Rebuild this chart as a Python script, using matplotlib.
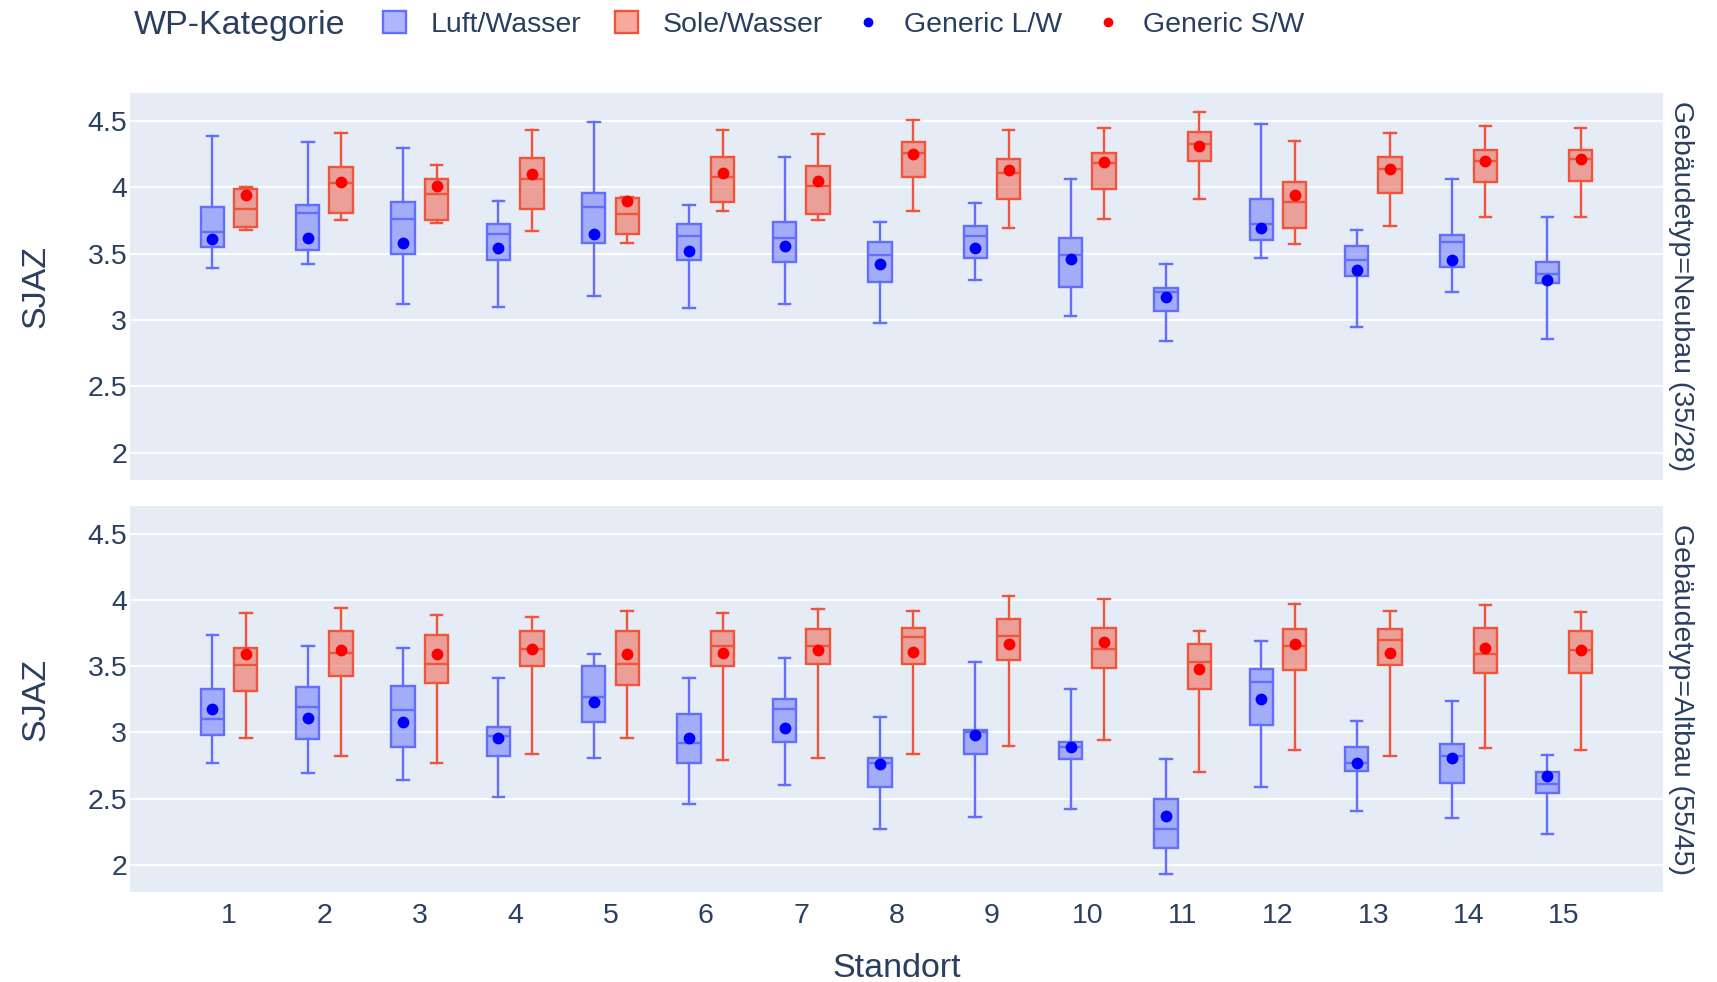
import matplotlib
matplotlib.use('Agg')
import matplotlib.pyplot as plt
from matplotlib.patches import Patch
from matplotlib.lines import Line2D
from matplotlib.colors import to_rgba

# Standorte (x categories) and y ticks
standorte = list(range(1, 16))
y_ticks = [2, 2.5, 3, 3.5, 4, 4.5]
y_tick_labels = ['2', '2.5', '3', '3.5', '4', '4.5']

# box stats per Standort: (whisker low, q1, median, q3, whisker high)
neubau_lw = [
    (3.39, 3.55, 3.66, 3.85, 4.39), (3.42, 3.53, 3.81, 3.87, 4.34), (3.12, 3.50, 3.76, 3.89, 4.30),
    (3.10, 3.45, 3.65, 3.72, 3.90), (3.18, 3.58, 3.85, 3.96, 4.49), (3.09, 3.45, 3.63, 3.72, 3.87),
    (3.12, 3.44, 3.62, 3.74, 4.23), (2.98, 3.29, 3.49, 3.59, 3.74), (3.30, 3.47, 3.63, 3.71, 3.88),
    (3.03, 3.25, 3.49, 3.62, 4.06), (2.84, 3.07, 3.21, 3.24, 3.42), (3.47, 3.60, 3.72, 3.91, 4.48),
    (2.95, 3.33, 3.45, 3.56, 3.68), (3.21, 3.40, 3.59, 3.64, 4.06), (2.86, 3.28, 3.35, 3.44, 3.78),
]
neubau_sw = [
    (3.68, 3.70, 3.84, 3.99, 4.00), (3.75, 3.81, 4.03, 4.15, 4.41), (3.73, 3.75, 3.95, 4.06, 4.17),
    (3.67, 3.84, 4.06, 4.22, 4.43), (3.58, 3.65, 3.80, 3.92, 3.93), (3.82, 3.89, 4.08, 4.23, 4.43),
    (3.75, 3.80, 4.01, 4.16, 4.40), (3.82, 4.08, 4.26, 4.34, 4.51), (3.69, 3.91, 4.11, 4.21, 4.43),
    (3.76, 3.99, 4.18, 4.26, 4.45), (3.91, 4.20, 4.33, 4.42, 4.57), (3.57, 3.69, 3.89, 4.04, 4.35),
    (3.71, 3.96, 4.14, 4.23, 4.41), (3.78, 4.04, 4.20, 4.28, 4.46), (3.78, 4.05, 4.21, 4.28, 4.45),
]
neubau_lw_generic = [3.61, 3.62, 3.58, 3.54, 3.65, 3.52, 3.56, 3.42, 3.54, 3.46, 3.17, 3.69, 3.38, 3.45, 3.30]
neubau_sw_generic = [3.94, 4.04, 4.01, 4.10, 3.90, 4.11, 4.05, 4.25, 4.13, 4.19, 4.31, 3.94, 4.14, 4.20, 4.21]

altbau_lw = [
    (2.77, 2.98, 3.10, 3.33, 3.74), (2.69, 2.95, 3.19, 3.34, 3.65), (2.64, 2.89, 3.17, 3.35, 3.64),
    (2.51, 2.82, 2.97, 3.04, 3.41), (2.81, 3.08, 3.27, 3.50, 3.59), (2.46, 2.77, 2.92, 3.14, 3.41),
    (2.60, 2.93, 3.18, 3.25, 3.56), (2.27, 2.59, 2.77, 2.81, 3.12), (2.36, 2.84, 3.00, 3.02, 3.53),
    (2.42, 2.80, 2.89, 2.93, 3.33), (1.93, 2.13, 2.27, 2.50, 2.80), (2.59, 3.06, 3.38, 3.48, 3.69),
    (2.41, 2.71, 2.77, 2.89, 3.09), (2.35, 2.62, 2.82, 2.91, 3.24), (2.23, 2.54, 2.61, 2.70, 2.83),
]
altbau_sw = [
    (2.96, 3.31, 3.51, 3.64, 3.90), (2.82, 3.43, 3.60, 3.77, 3.94), (2.77, 3.37, 3.52, 3.74, 3.89),
    (2.84, 3.50, 3.63, 3.77, 3.87), (2.96, 3.36, 3.52, 3.77, 3.92), (2.79, 3.50, 3.65, 3.77, 3.90),
    (2.81, 3.52, 3.65, 3.78, 3.93), (2.84, 3.52, 3.72, 3.79, 3.92), (2.90, 3.55, 3.73, 3.86, 4.03),
    (2.94, 3.49, 3.63, 3.79, 4.01), (2.70, 3.33, 3.53, 3.67, 3.77), (2.87, 3.47, 3.65, 3.78, 3.97),
    (2.82, 3.51, 3.70, 3.78, 3.92), (2.88, 3.45, 3.59, 3.79, 3.96), (2.87, 3.45, 3.62, 3.77, 3.91),
]
altbau_lw_generic = [3.18, 3.11, 3.08, 2.96, 3.23, 2.96, 3.03, 2.76, 2.98, 2.89, 2.37, 3.25, 2.77, 2.81, 2.67]
altbau_sw_generic = [3.59, 3.62, 3.59, 3.63, 3.59, 3.60, 3.62, 3.61, 3.67, 3.68, 3.48, 3.67, 3.60, 3.64, 3.62]

BLUE = '#636EFA'
RED = '#EF553B'
TEXT = '#2a3f5f'
BG = '#E5ECF6'
LW = 1.7

plt.rcParams['font.family'] = ['Liberation Sans', 'DejaVu Sans']


def draw_boxes(ax, rows, generic, offset, color, dot):
    pos = [s + offset for s in standorte]
    stats = [dict(whislo=r[0], q1=r[1], med=r[2], q3=r[3], whishi=r[4]) for r in rows]
    ax.bxp(stats, positions=pos, widths=0.245, capwidths=0.12, patch_artist=True,
           showfliers=False, manage_ticks=False,
           boxprops=dict(facecolor=to_rgba(color, 0.5), edgecolor=color, linewidth=LW),
           medianprops=dict(color=color, linewidth=LW),
           whiskerprops=dict(color=color, linewidth=LW),
           capprops=dict(color=color, linewidth=LW))
    ax.plot(pos, generic, 'o', color=dot, markersize=7.5, linestyle='none', zorder=5)


fig = plt.figure(figsize=(17.17, 9.82), dpi=100)
ax_top = fig.add_axes([0.0757, 0.5112, 0.8929, 0.3941])
ax_bot = fig.add_axes([0.0757, 0.0916, 0.8929, 0.3931])

panels = [
    (ax_top, neubau_lw, neubau_sw, neubau_lw_generic, neubau_sw_generic, 'Gebäudetyp=Neubau (35/28)'),
    (ax_bot, altbau_lw, altbau_sw, altbau_lw_generic, altbau_sw_generic, 'Gebäudetyp=Altbau (55/45)'),
]
for ax, lw_rows, sw_rows, lw_gen, sw_gen, strip in panels:
    ax.set_facecolor(BG)
    for sp in ax.spines.values():
        sp.set_visible(False)
    ax.set_axisbelow(True)
    ax.grid(axis='y', color='white', linewidth=1.3)
    draw_boxes(ax, lw_rows, lw_gen, -0.175, BLUE, 'blue')
    draw_boxes(ax, sw_rows, sw_gen, 0.175, RED, 'red')
    ax.set_xlim(-0.04, 16.04)
    ax.set_ylim(1.794, 4.711)
    ax.set_yticks(y_ticks)
    ax.set_yticklabels(y_tick_labels)
    ax.set_xticks(standorte)
    ax.tick_params(length=0, labelsize=20.5, colors=TEXT, pad=2)
    ax.set_ylabel('SJAZ', fontsize=24.5, color=TEXT, va='center')
    ax.yaxis.set_label_coords(-0.0613, 0.5)
    ax.text(1.0117, 0.5, strip, transform=ax.transAxes, rotation=-90,
            ha='center', va='center', fontsize=20.5, color=TEXT)

ax_top.set_xticklabels([])
ax_bot.set_xticklabels([str(s) for s in standorte])
ax_bot.tick_params(axis='x', pad=8)
ax_bot.set_xlabel('Standort', fontsize=24.5, color=TEXT, va='center')
ax_bot.xaxis.set_label_coords(0.5, -0.197)

# legend
fig.text(134 / 1717, 0.974, 'WP-Kategorie', fontsize=24.5, color=TEXT, ha='left', va='center')
handles = [
    Patch(facecolor=to_rgba(BLUE, 0.5), edgecolor=BLUE, linewidth=LW, label='Luft/Wasser'),
    Patch(facecolor=to_rgba(RED, 0.5), edgecolor=RED, linewidth=LW, label='Sole/Wasser'),
    Line2D([], [], marker='o', color='blue', linestyle='none', markersize=6, label='Generic L/W'),
    Line2D([], [], marker='o', color='red', linestyle='none', markersize=6, label='Generic S/W'),
]
fig.legend(handles=handles, loc='center left', bbox_to_anchor=(0.223, 0.975), ncol=4,
           frameon=False, fontsize=20.5, handlelength=0.8, handleheight=0.8,
           handletextpad=0.86, columnspacing=1.2, borderpad=0, borderaxespad=0,
           labelcolor=TEXT)

fig.savefig('out.png', dpi=100)
